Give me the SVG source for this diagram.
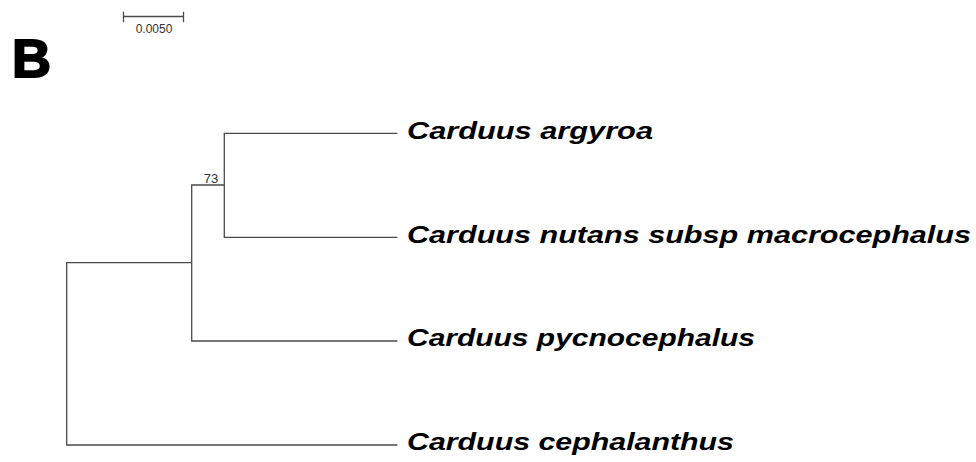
<svg xmlns="http://www.w3.org/2000/svg" width="976" height="462" viewBox="0 0 976 462">
<style>
.br{stroke:#4a4a4a;stroke-width:1.3;fill:none;stroke-linecap:square}
.lab{font-family:"Liberation Sans",Arial,sans-serif;font-weight:bold;font-style:italic;font-size:24px;fill:#000}
.sm{font-family:"Liberation Sans",Arial,sans-serif;fill:#333}
</style>
<rect width="976" height="462" fill="#fff"/>
<g id="panel-label">
<text x="12" y="77" font-family="'Liberation Sans',Arial,sans-serif" font-weight="900" font-size="54" fill="#000" stroke="#000" stroke-width="2" textLength="39" lengthAdjust="spacingAndGlyphs">B</text>
</g>
<g id="scale-bar">
<path class="br" d="M123.5 16.5H183.5M123.5 12.5V21.5M183.5 12.5V21.5"/>
<text class="sm" x="154" y="33" font-size="12" text-anchor="middle">0.0050</text>
</g>
<g id="connectors">
<path class="br" d="M66.7 262.7V445M66.7 262.7H191.7M191.7 185V341M191.7 185H224.3M224.3 133.3V237.3M224.3 133.3H396.7M224.3 237.3H396.7M191.7 341H396.7M66.7 445H396.7"/>
</g>
<g id="bootstrap-73">
<text class="sm" x="211" y="183.3" font-size="13" text-anchor="middle">73</text>
</g>
<g id="leaf-argyroa">
<text class="lab" x="407" y="139" textLength="246" lengthAdjust="spacingAndGlyphs">Carduus argyroa</text>
</g>
<g id="leaf-nutans">
<text class="lab" x="407" y="243" textLength="564" lengthAdjust="spacingAndGlyphs">Carduus nutans subsp macrocephalus</text>
</g>
<g id="leaf-pycnocephalus">
<text class="lab" x="407" y="346" textLength="348" lengthAdjust="spacingAndGlyphs">Carduus pycnocephalus</text>
</g>
<g id="leaf-cephalanthus">
<text class="lab" x="407" y="450" textLength="327" lengthAdjust="spacingAndGlyphs">Carduus cephalanthus</text>
</g>
</svg>
